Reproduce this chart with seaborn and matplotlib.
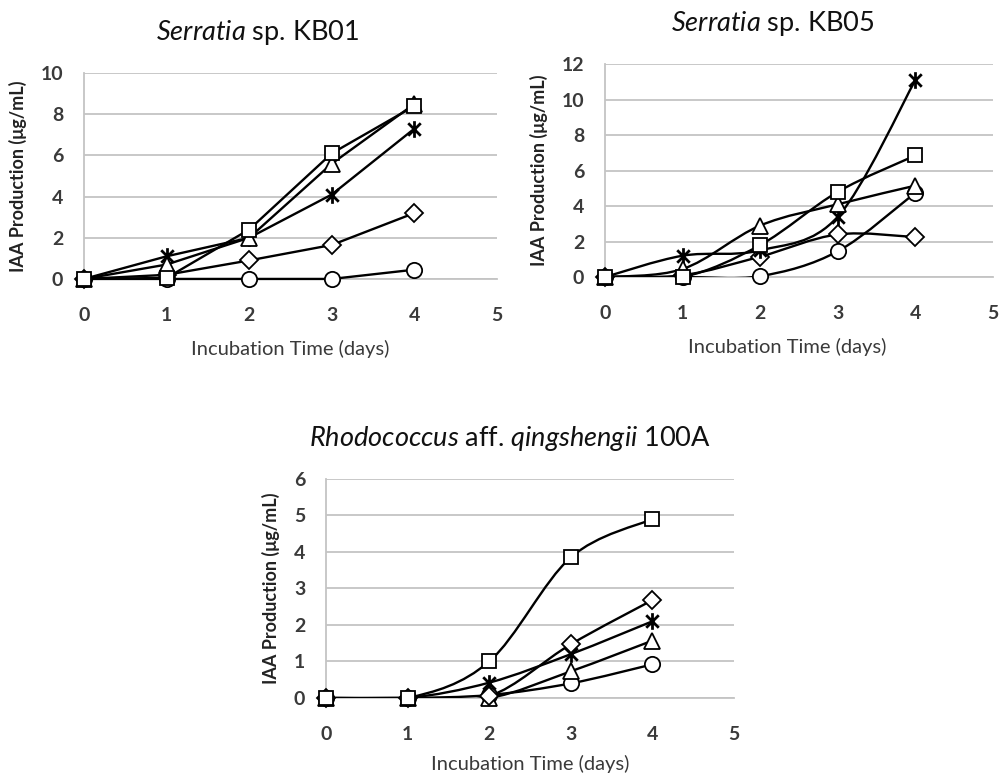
import numpy as np
import pandas as pd
import matplotlib
matplotlib.use("Agg")
import matplotlib.pyplot as plt
from matplotlib.path import Path
from matplotlib.patches import PathPatch
import seaborn as sns

sns.set_theme(style="white")
plt.rcParams['font.family'] = ['Lato', 'DejaVu Sans']
plt.rcParams['mathtext.fontset'] = 'custom'
plt.rcParams['mathtext.it'] = 'Lato:italic'
plt.rcParams['mathtext.rm'] = 'Lato'

days = [0, 1, 2, 3, 4]

# Serratia sp. KB01
kb01_square = [0, 0.05, 2.4, 6.1, 8.4]
kb01_triangle = [0, 0.7, 2.0, 5.6, 8.5]
kb01_star = [0, 1.1, 2.0, 4.1, 7.3]
kb01_diamond = [0, 0.2, 0.9, 1.65, 3.2]
kb01_circle = [0, 0, 0, 0, 0.45]

# Serratia sp. KB05
kb05_square = [0, 0, 1.8, 4.8, 6.85]
kb05_triangle = [0, 0.45, 2.9, 4.1, 5.15]
kb05_star = [0, 1.2, 1.5, 3.4, 11.1]
kb05_diamond = [0, 0.1, 1.15, 2.4, 2.25]
kb05_circle = [0, 0, 0.05, 1.45, 4.75]

# Rhodococcus aff. qingshengii 100A
rho_square = [0, 0, 1.0, 3.85, 4.9]
rho_triangle = [0, 0, 0.0, 0.73, 1.57]
rho_star = [0, 0, 0.42, 1.2, 2.1]
rho_diamond = [0, 0, 0.05, 1.47, 2.68]
rho_circle = [0, 0, 0.08, 0.4, 0.92]

# Excel-like star: an X with a vertical bar through it
STAR = Path([(0, -1), (0, 1), (-0.75, -0.75), (0.75, 0.75), (-0.75, 0.75), (0.75, -0.75)],
            [Path.MOVETO, Path.LINETO] * 3)
MARKERS = {"square": ("s", 10.5), "triangle": ("^", 11.5), "star": (STAR, 12),
           "diamond": ("D", 9), "circle": ("o", 11)}
GRID = "#c4c4c4"
TXT = "#3a3a3a"


def smooth_path(x, y):
    """Excel-style smoothed line through the data points (cubic Bezier)."""
    pts = np.column_stack([x, y]).astype(float)
    verts = [pts[0]]
    codes = [Path.MOVETO]
    n = len(pts)
    for i in range(n - 1):
        p0 = pts[i - 1] if i > 0 else pts[i]
        p1, p2 = pts[i], pts[i + 1]
        p3 = pts[i + 2] if i + 2 < n else pts[i + 1]
        c1 = p1 + (p2 - p0) / 6.0
        c2 = p2 - (p3 - p1) / 6.0
        verts += [c1, c2, p2]
        codes += [Path.CURVE4] * 3
    return Path(verts, codes)


def draw_panel(ax, series, ymax, ystep, title, title_x, xlab_x, xlab_off, smooth):
    for name, vals in series.items():
        if smooth:
            ax.add_patch(PathPatch(smooth_path(days, vals), fill=False,
                                   edgecolor="black", lw=1.7, zorder=3))
        else:
            sns.lineplot(x=days, y=vals, color="black", lw=1.7, ax=ax, zorder=3)
    for name, vals in series.items():
        m, s = MARKERS[name]
        sns.lineplot(x=days, y=vals, ax=ax, linestyle="", marker=m, markersize=s,
                     markerfacecolor="white", markeredgecolor="black",
                     markeredgewidth=1.3 if name != "star" else 2.0, zorder=4)

    ax.set_xlim(0, 5)
    ax.set_ylim(0, ymax)
    ax.set_xticks(range(0, 6))
    yt = np.arange(0, ymax + 0.01, ystep)
    ax.set_yticks(yt)
    ax.set_yticklabels([f"{int(v)}" for v in yt])
    ax.grid(axis="y", color=GRID, lw=1.3)
    ax.set_axisbelow(True)
    for side in ["top", "right"]:
        ax.spines[side].set_visible(False)
    for side in ["left", "bottom"]:
        ax.spines[side].set_color(GRID)
        ax.spines[side].set_linewidth(1.3)
    ax.tick_params(axis="x", direction="out", length=5, width=1.2, color=GRID,
                   pad=15, labelsize=14, labelcolor=TXT)
    ax.tick_params(axis="y", length=0, pad=15, labelsize=14, labelcolor=TXT)
    for lab in ax.get_xticklabels() + ax.get_yticklabels():
        lab.set_fontweight("bold")
    ax.set_xlabel("Incubation Time (days)", fontsize=14.5, color=TXT)
    ax.xaxis.set_label_coords(xlab_x, xlab_off)
    ax.set_ylabel("IAA Production (\u03bcg/mL)", fontsize=13, color="#222222",
                  fontweight="bold", labelpad=10)
    ax.set_title(title, fontsize=19.5, color="#111111", pad=24, x=title_x)
    for ln in ax.lines:
        ln.set_clip_on(False)


fig = plt.figure(figsize=(10, 7.77), dpi=100)
ax1 = fig.add_axes([0.084, 0.641, 0.413, 0.265])
ax2 = fig.add_axes([0.605, 0.6435, 0.388, 0.274])
ax3 = fig.add_axes([0.326, 0.1017, 0.408, 0.282])

draw_panel(ax1, {"circle": kb01_circle, "diamond": kb01_diamond, "star": kb01_star,
                 "triangle": kb01_triangle, "square": kb01_square},
           10, 2, r"$\it{Serratia}$ sp. KB01", 0.42, 0.5, -61 / 206, smooth=False)
draw_panel(ax2, {"circle": kb05_circle, "diamond": kb05_diamond, "star": kb05_star,
                 "triangle": kb05_triangle, "square": kb05_square},
           12, 2, r"$\it{Serratia}$ sp. KB05", 0.433, 0.47, -61 / 213, smooth=True)
draw_panel(ax3, {"circle": rho_circle, "triangle": rho_triangle, "star": rho_star,
                 "diamond": rho_diamond, "square": rho_square},
           6, 1, r"$\it{Rhodococcus}$ aff. $\it{qingshengii}$ 100A", 0.45, 0.5, -57 / 219,
           smooth=True)

fig.savefig("out.png", dpi=100, facecolor="white")
